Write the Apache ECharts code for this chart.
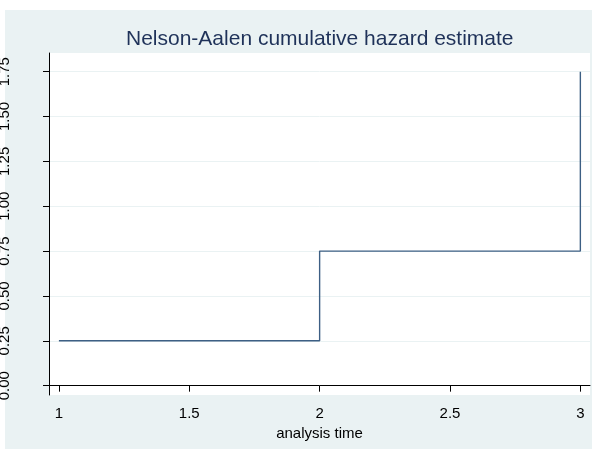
<!DOCTYPE html>
<html><head><meta charset="utf-8">
<script src="https://cdn.jsdelivr.net/npm/echarts@6/dist/echarts.min.js"></script>
<style>html,body{margin:0;padding:0;background:#fff}#c{width:597px;height:451px}</style>
</head><body><div id="c"></div>
<script>
const titleText = "Nelson-Aalen cumulative hazard estimate";
const xTitle = "analysis time";
const times = [1, 2, 3];
const hazard = [0.25, 0.75, 1.75];
const xTicks = [1, 1.5, 2, 2.5, 3];
const yTicks = [0, 0.25, 0.5, 0.75, 1, 1.25, 1.5, 1.75];
const yTickLabels = ["0.00","0.25","0.50","0.75","1.00","1.25","1.50","1.75"];

const chart = echarts.init(document.getElementById('c'), null, {renderer:'canvas'});
const font = 'Liberation Sans, Arial, sans-serif';
chart.setOption({
  backgroundColor: '#ffffff',
  animation: false,
  graphic: [{type:'rect', z:-10, shape:{x:5,y:10,width:587,height:439}, style:{fill:'#EAF2F3'}}],
  title: {text: titleText, left: 126, top: 29, padding:0,
    textStyle:{fontFamily:font, fontWeight:'normal', fontSize:21, color:'#1f3259'}},
  grid: {left:49, right:7, top:53, bottom:56, show:true, backgroundColor:'#ffffff', borderWidth:0,
    containLabel:false, outerBoundsMode:'none'},
  xAxis: {type:'value', min:0.962, max:3.037,
    name: xTitle, nameLocation:'middle', nameGap:26,
    nameTextStyle:{fontFamily:font, fontSize:15, color:'#000'},
    axisLine:{show:true, lineStyle:{color:'#000', width:1}},
    axisTick:{show:true, length:6, customValues: xTicks, lineStyle:{color:'#000'}},
    axisLabel:{customValues: xTicks, margin:11, fontFamily:font, fontSize:15, color:'#000',
      formatter: v => String(v)},
    splitLine:{show:false}},
  yAxis: {type:'value', min:-0.052, max:1.854,
    axisLine:{show:true, lineStyle:{color:'#000', width:1}},
    axisTick:{show:true, length:6, customValues: yTicks, lineStyle:{color:'#000'}},
    axisLabel:{customValues: yTicks, rotate:90, margin:37, fontFamily:font, fontSize:15, color:'#000',
      formatter: v => yTickLabels[yTicks.findIndex(t => Math.abs(t - v) < 1e-9)]},
    splitLine:{show:true, lineStyle:{color:'#EAF2F3', width:1}}},
  series: [{type:'line', step:'end', showSymbol:false, symbol:'none',
    data: times.map((t,i)=>[t, hazard[i]]),
    lineStyle:{color:'#3d5f84', width:1.4}}]
});
</script></body></html>
